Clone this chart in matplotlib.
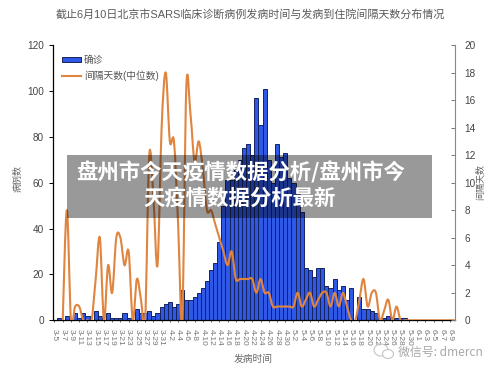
import matplotlib
matplotlib.use("Agg")
import matplotlib.pyplot as plt
from matplotlib.path import Path
from matplotlib.patches import PathPatch, Rectangle, Ellipse
import numpy as np

plt.rcParams['font.family'] = ['Liberation Sans', 'Noto Sans CJK SC', 'DejaVu Sans']

W, H = 500.0, 373.0

# confirmed cases per onset day, starting 3-5
cases = [0, 1, 0, 2, 0, 3, 1, 3, 2, 0, 4, 2, 0, 3, 1, 1, 1, 3, 1, 0,
         5, 3, 3, 4, 2, 3, 6, 7, 8, 6, 7, 13, 9, 9, 10, 12, 14, 17, 22, 25,
         34, 50, 61, 61, 66, 70, 75, 77, 72, 97, 85, 101, 70, 60, 77, 71, 73, 62, 60, 55,
         47, 23, 22, 19, 23, 23, 15, 14, 18, 13, 15, 9, 14, 0, 10, 5, 5, 4, 3, 0,
         1, 2, 1, 1, 1, 1, 0, 0, 0, 0, 0, 0, 0, 0, 0, 0, 0, 0]

# median days from onset to admission, same days
gap = [0, 0, 0, 8, 0, 1, 1, 0, 0, 0, 3, 6, 0, 4, 2, 6, 6, 4, 5, 0,
       3, 1.5, 0, 12, 9, 4, 14, 18, 13, 13, 7, 0, 17, 15, 11.5, 13, 11, 8, 8, 7,
       6, 5, 4, 5, 3, 3, 3, 3, 3, 2, 3, 2, 2, 1, 1, 1, 1, 1, 1, 2,
       1, 1.5, 2, 1, 1.5, 2, 2, 1, 2, 1, 2, 1, 0, 0, 1.5, 3, 1, 2, 2, 0,
       0.7, 1.5, 0, 1, 0, 0, 0, 0, 0, 0, 0, 0, 0, 0, 0, 0, 0, 0]

# tick labels, every second day
tick_idx = list(range(0, 97, 2))
tick_names = ['3-5', '3-7', '3-9', '3-11', '3-13', '3-15', '3-17', '3-19', '3-21', '3-23',
              '3-25', '3-27', '3-29', '3-31', '4-2', '4-4', '4-6', '4-8', '4-10', '4-12',
              '4-14', '4-16', '4-18', '4-20', '4-22', '4-24', '4-26', '4-28', '4-30', '5-2',
              '5-4', '5-6', '5-8', '5-10', '5-12', '5-14', '5-16', '5-18', '5-20', '5-22',
              '5-24', '5-26', '5-28', '5-30', '6-1', '6-3', '6-5', '6-7', '6-9']


def smooth_path(xs, ys):
    # same kind of smoothed line a spreadsheet draws, as bezier segments
    verts = [(xs[0], ys[0])]
    codes = [Path.MOVETO]
    n = len(xs)
    for i in range(n - 1):
        p0 = max(i - 1, 0)
        p3 = min(i + 2, n - 1)
        c1 = (xs[i] + (xs[i + 1] - xs[p0]) / 6, ys[i] + (ys[i + 1] - ys[p0]) / 6)
        c2 = (xs[i + 1] - (xs[p3] - xs[i]) / 6, ys[i + 1] - (ys[p3] - ys[i]) / 6)
        verts += [c1, c2, (xs[i + 1], ys[i + 1])]
        codes += [Path.CURVE4, Path.CURVE4, Path.CURVE4]
    return Path(verts, codes)


fig = plt.figure(figsize=(5.0, 3.73), dpi=100)
ax = fig.add_axes([53 / W, 1 - 320.3 / H, 402 / W, 275.3 / H])
ax2 = ax.twinx()

days = np.arange(len(cases))
ax.bar(days, cases, width=1.0, color='#2f58e6', edgecolor='#14235f', linewidth=0.7)
ax.set_xlim(-0.36, 97.2)
ax.set_ylim(0, 120)
ax.set_yticks(range(0, 121, 20))
ax.set_xticks(tick_idx)
ax.set_xticklabels(tick_names, rotation=-90, fontsize=6, color='#777777', ha='center', va='top')
ax.tick_params(axis='x', which='major', length=1.5, width=0.5, pad=5, color='#333333')
ax.tick_params(axis='y', length=3, width=0.7, labelsize=7.2, labelcolor='#444444', direction='out')

ax2.set_ylim(0, 20)
ax2.set_yticks(range(0, 21, 2))
ax2.tick_params(axis='y', length=3, width=0.7, labelsize=7.2, labelcolor='#444444',
                color='#777777', direction='in', pad=7)

ax.spines['top'].set_visible(False)
ax2.spines['top'].set_visible(False)
ax.spines['right'].set_visible(False)
ax2.spines['left'].set_visible(False)
ax2.spines['bottom'].set_visible(False)
ax2.spines['right'].set_color('#888888')
ax.spines['left'].set_linewidth(0.9)
ax.spines['bottom'].set_linewidth(0.9)

ax2.add_patch(PathPatch(smooth_path(days[2:], gap[2:]), fill=False, edgecolor='#e0853f',
                        linewidth=1.5, capstyle='round', joinstyle='round', clip_on=True))

# legend, placed by hand like the original
fig.add_artist(Rectangle((62 / W, 1 - 62 / H), 19 / W, 5 / H, facecolor='#2f58e6',
                         edgecolor='#14235f', linewidth=0.7, transform=fig.transFigure))
fig.add_artist(plt.Line2D([62 / W, 81 / W], [1 - 75.7 / H] * 2, color='#e0853f', linewidth=1.5))
fig.text(84 / W, 1 - 59.5 / H, '确诊', fontsize=7, color='#555555', va='center')
fig.text(84 / W, 1 - 75.5 / H, '间隔天数(中位数)', fontsize=7, color='#555555', va='center')

fig.text(250 / W, 1 - 14 / H, '截止6月10日北京市SARS临床诊断病例发病时间与发病到住院间隔天数分布情况',
         fontsize=7.9, color='#5a5a5a', ha='center', va='center')
fig.text(18 / W, 1 - 178 / H, '病例数', fontsize=6.5, color='#666666', rotation=90, ha='center', va='center')
fig.text(481 / W, 1 - 182 / H, '间隔天数', fontsize=6.5, color='#666666', rotation=90, ha='center', va='center')
fig.text(253 / W, 1 - 359 / H, '发病时间', fontsize=7, color='#666666', ha='center', va='center')

# banner over the chart
fig.add_artist(Rectangle((67 / W, 1 - 217.7 / H), 365 / W, 62.7 / H, facecolor='black', alpha=0.4,
                         edgecolor='none', transform=fig.transFigure, zorder=5))
banner_font = ['Noto Sans CJK SC', 'DejaVu Sans']
fig.text(241 / W, 1 - 172 / H, '盘州市今天疫情数据分析/盘州市今', fontsize=15.4, color='white',
         fontweight='bold', family=banner_font, ha='center', va='center', zorder=6)
fig.text(240 / W, 1 - 198.5 / H, '天疫情数据分析最新', fontsize=15.4, color='white',
         fontweight='bold', family=banner_font, ha='center', va='center', zorder=6)

# watermark
fig.add_artist(Ellipse((381 / W, 1 - 350 / H), 14 / W, 12 / H, facecolor='none', edgecolor='#c4c4c4',
                       linewidth=0.8, transform=fig.transFigure, zorder=6))
fig.add_artist(Ellipse((388 / W, 1 - 354 / H), 11 / W, 9 / H, facecolor='white', edgecolor='#c4c4c4',
                       linewidth=0.8, transform=fig.transFigure, zorder=6))
fig.text(398 / W, 1 - 352 / H, '微信号: dmercn', fontsize=8.6, color='#a8a8a8',
         family=['Noto Sans CJK SC', 'DejaVu Sans'], ha='left', va='center', zorder=6)

fig.savefig('out.png', dpi=100)
